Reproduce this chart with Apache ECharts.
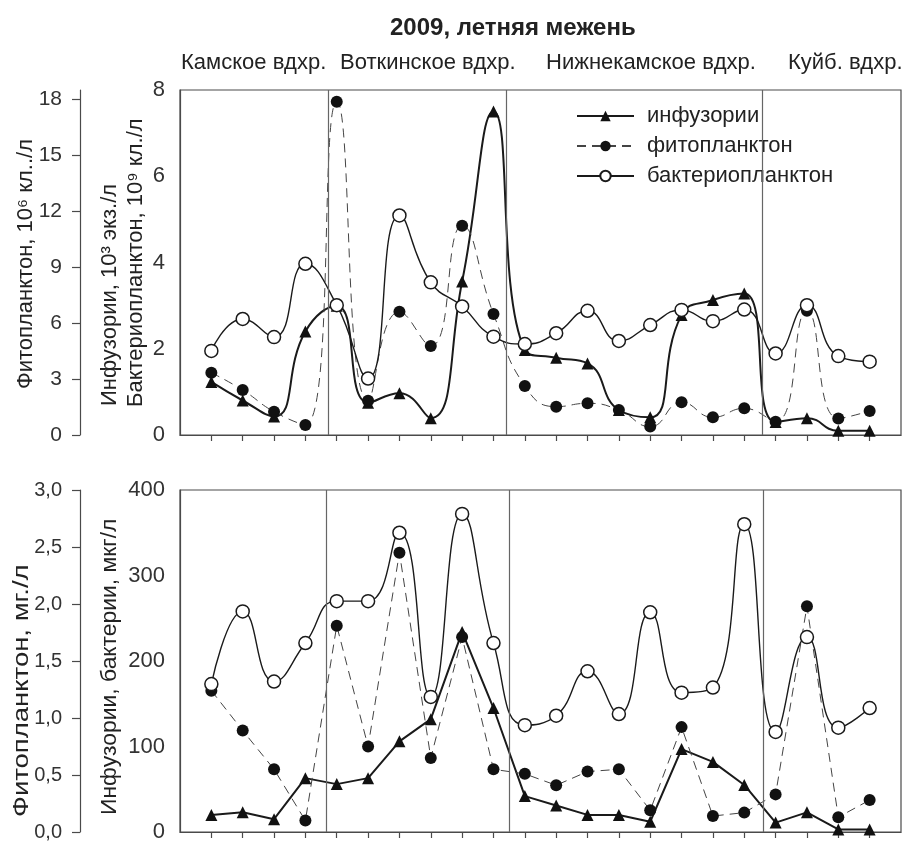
<!DOCTYPE html>
<html>
<head>
<meta charset="utf-8">
<script src="https://cdn.jsdelivr.net/npm/echarts@6/dist/echarts.min.js"></script>
<style>
html,body{margin:0;padding:0;background:#fff;}
#chart{width:904px;height:843px;}
</style>
</head>
<body>
<div id="chart"></div>
<script>
// ---- data ----
const stations = [1,2,3,4,5,6,7,8,9,10,11,12,13,14,15,16,17,18,19,20,21,22];

// top panel: numbers
const topInf   = [1.23,0.80,0.43,2.40,3.00,0.75,0.97,0.39,3.56,7.50,1.97,1.79,1.66,0.58,0.41,2.78,3.13,3.28,0.30,0.39,0.10,0.10];
const topPhyto = [3.34,2.41,1.25,0.54,17.87,1.84,6.61,4.77,11.22,6.49,2.63,1.52,1.70,1.34,0.45,1.75,0.95,1.43,0.71,6.66,0.89,1.29];
const topBact  = [1.95,2.69,2.27,3.97,3.01,1.31,5.09,3.54,2.98,2.28,2.11,2.36,2.88,2.18,2.55,2.90,2.64,2.91,1.89,3.01,1.83,1.70];

// bottom panel: biomass
const botInf   = [20,23,15,63,56,63,106,132,234,145,42,31,20,20,12,97,82,55,11,23,3,3];
const botPhyto = [1.24,0.89,0.55,0.10,1.81,0.75,2.45,0.65,1.71,0.55,0.51,0.41,0.53,0.55,0.19,0.92,0.14,0.17,0.33,1.98,0.13,0.28];
const botBact  = [173,258,176,221,270,270,350,158,372,221,125,136,188,138,257,163,169,360,117,228,122,145];

// reservoir boundaries (in station units)
const topSep = [4.73,10.41,18.57];
const botSep = [4.68,10.51,18.62];

const reservoirs = ['Камское вдхр.','Воткинское вдхр.','Нижнекамское вдхр.','Куйб. вдхр.'];
const seriesNames = ['инфузории','фитопланктон','бактериопланктон'];
const titleText = '2009, летняя межень';

const topInnerTicks = [0,2,4,6,8];
const topOuterTicks = [0,3,6,9,12,15,18];
const botInnerTicks = [0,100,200,300,400];
const botOuterTicks = [0,0.5,1,1.5,2,2.5,3];

// ---- helpers ----
const FONT = '"Liberation Sans", Arial, sans-serif';
const pair = (vals) => stations.map((s,i)=>[s, vals[i]]);
const AX = '#4a4a4a';

const chart = echarts.init(document.getElementById('chart'), null, {renderer:'canvas'});

function xAxisFor(g){
  return {
    gridIndex:g, type:'value', min:0, max:23,
    axisLine:{show:true, lineStyle:{color:AX, width:1.2}},
    axisTick:{show:true, customValues:stations, length:6, lineStyle:{color:AX, width:1.2}},
    axisLabel:{show:false}, splitLine:{show:false}
  };
}
function yInner(g, max, interval, ticks){
  return {
    gridIndex:g, type:'value', position:'left', min:0, max:max, interval:interval,
    axisLine:{show:true, lineStyle:{color:AX, width:1.2}},
    axisTick:{show:false},
    axisLabel:{show:true, customValues:ticks, margin:15, fontSize:22, fontFamily:FONT, color:'#333'},
    splitLine:{show:false}
  };
}
function yOuter(g, max, ticks, fmt, fs){
  return {
    gridIndex:g, type:'value', position:'left', offset:100, min:0, max:max,
    axisLine:{show:true, lineStyle:{color:AX, width:1.2}},
    axisTick:{show:true, customValues:ticks, length:8, lineStyle:{color:AX, width:1.2}},
    axisLabel:{show:true, customValues:ticks, margin:18, fontSize:fs, fontFamily:FONT, color:'#333', formatter:fmt},
    splitLine:{show:false}
  };
}
const sepLine = (vals) => ({
  symbol:'none', silent:true, animation:false,
  label:{show:false},
  lineStyle:{type:'solid', color:'#666', width:1.2},
  data: vals.map(v=>({xAxis:v}))
});

function infSeries(xi, yi, data, smooth){
  return {
    name:seriesNames[0], type:'line', xAxisIndex:xi, yAxisIndex:yi, data:pair(data),
    smooth:smooth, symbol:'triangle', symbolSize:12,
    itemStyle:{color:'#111'}, lineStyle:{color:'#1a1a1a', width:2}, z:2
  };
}
function phySeries(xi, yi, data, smooth){
  return {
    name:seriesNames[1], type:'line', xAxisIndex:xi, yAxisIndex:yi, data:pair(data),
    smooth:smooth, symbol:'circle', symbolSize:12,
    itemStyle:{color:'#111'}, lineStyle:{color:'#444', width:1, type:[9,6]}, z:3
  };
}
function bacSeries(xi, yi, data, seps){
  return {
    name:seriesNames[2], type:'line', xAxisIndex:xi, yAxisIndex:yi, data:pair(data),
    smooth:true, symbol:'circle', symbolSize:13,
    itemStyle:{color:'#fff', borderColor:'#1a1a1a', borderWidth:1.5},
    lineStyle:{color:'#1a1a1a', width:1.4}, z:4,
    markLine: sepLine(seps)
  };
}

const resX = [181, 340, 546, 788];
const graphics = [];
reservoirs.forEach((r,i)=>{
  graphics.push({type:'text', x:resX[i], y:63,
    style:{text:r, fontSize:22, fontFamily:FONT, fill:'#222', align:'left', verticalAlign:'middle'}});
});
function vText(x, y, text, sx){
  graphics.push({type:'text', x:x, y:y, rotation:Math.PI/2, scaleX:sx||1,
    style:{text:text, fontSize:22, fontFamily:FONT, fill:'#222', align:'left', verticalAlign:'middle'}});
}
vText(26, 389, 'Фитопланктон, 10⁶ кл../л');
vText(110, 406, 'Инфузории, 10³ экз./л');
vText(136, 407, 'Бактериопланктон, 10⁹ кл./л');
vText(22, 817, 'Фитопланктон, мг./л', 1.25);
vText(110, 815, 'Инфузории, бактерии, мкг/л', 1.04);

const option = {
  animation:false,
  backgroundColor:'#fff',
  title:{text:titleText, left:385, top:11,
    textStyle:{fontSize:24, fontWeight:'bold', fontFamily:FONT, color:'#222'}},
  legend:{
    data:seriesNames, orient:'vertical', left:571, top:100,
    itemWidth:57, itemHeight:13, itemGap:8,
    textStyle:{fontSize:22, fontFamily:FONT, color:'#222', padding:[0,0,0,8]}
  },
  grid:[
    {left:180, top:90, width:721, height:345, show:true, borderColor:AX, borderWidth:1.2, backgroundColor:'transparent'},
    {left:180, top:490, width:721, height:344, show:true, borderColor:AX, borderWidth:1.2, backgroundColor:'transparent'}
  ],
  xAxis:[xAxisFor(0), xAxisFor(1)],
  yAxis:[
    yInner(0, 8, 2, topInnerTicks),
    yOuter(0, 18.5, topOuterTicks, v=>String(v), 21),
    yInner(1, 400, 100, botInnerTicks),
    yOuter(1, 3, botOuterTicks, v=>v.toFixed(1).replace('.', ','), 20)
  ],
  graphic:graphics,
  series:[
    infSeries(0, 0, topInf, true),
    phySeries(0, 1, topPhyto, true),
    bacSeries(0, 0, topBact, topSep),
    infSeries(1, 2, botInf, false),
    phySeries(1, 3, botPhyto, false),
    bacSeries(1, 2, botBact, botSep)
  ]
};
chart.setOption(option);
</script>
</body>
</html>
